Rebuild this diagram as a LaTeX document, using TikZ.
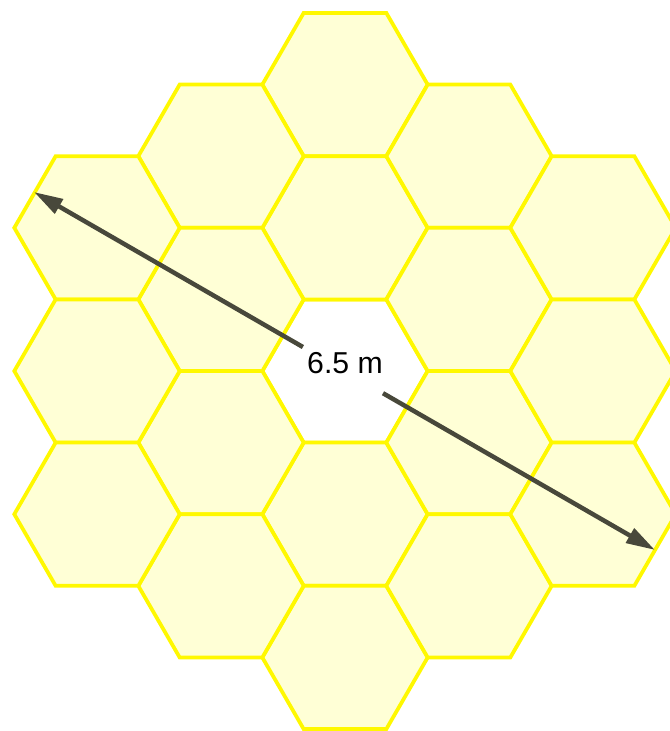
\documentclass[tikz,border=0pt]{standalone}
\usepackage{fontspec}
\setmainfont{Liberation Sans}
\newfontfamily\dimfont{Liberation Sans}[Scale=1.72]
\usepackage{xcolor}
\usetikzlibrary{arrows.meta, calc}

\definecolor{hexfill}{HTML}{FFFFD6}
\definecolor{hexline}{HTML}{FFF800}
\definecolor{dimgray}{HTML}{48483B}

\tikzset{
  hexcell/.style={draw=hexline, fill=hexfill, line width=0.075cm, line join=miter},
  hexgap/.style={draw=hexline, fill=white, line width=0.075cm, line join=miter},
  dimline/.style={draw=dimgray, line width=0.09cm,
    -{Triangle[length=0.58cm, width=0.32cm]}},
}

\begin{document}
\begin{tikzpicture}[x=0.02cm, y=-0.02cm]
  \useasboundingbox (0,0) rectangle (670,731);
  \clip (0,0) rectangle (670,731);

  % ── empty centre segment ──
  \draw[hexgap] (345,371) +(0:82.7) -- +(60:82.7) -- +(120:82.7)
    -- +(180:82.7) -- +(240:82.7) -- +(300:82.7) -- cycle;

  % ── 18 mirror segments ──
  \foreach \cx/\cy in {
    345/84.6, 345/227.8, 345/514.2, 345/657.4,
    221/156.2, 221/299.4, 221/442.6, 221/585.8,
    469/156.2, 469/299.4, 469/442.6, 469/585.8,
    97/227.8, 97/371, 97/514.2,
    593/227.8, 593/371, 593/514.2} {
    \draw[hexcell] (\cx,\cy) +(0:82.7) -- +(60:82.7) -- +(120:82.7)
      -- +(180:82.7) -- +(240:82.7) -- +(300:82.7) -- cycle;
  }

  % ── diameter ──
  \coordinate (tipL) at (34,192);
  \coordinate (tipR) at (655,550);
  \node[inner sep=0pt, font=\dimfont] (diam) at (345,363.5) {6.5 m};
  \draw[dimline] ($(tipL)!0.433!(tipR)$) -- (tipL);
  \draw[dimline] ($(tipL)!0.562!(tipR)$) -- (tipR);
\end{tikzpicture}
\end{document}
